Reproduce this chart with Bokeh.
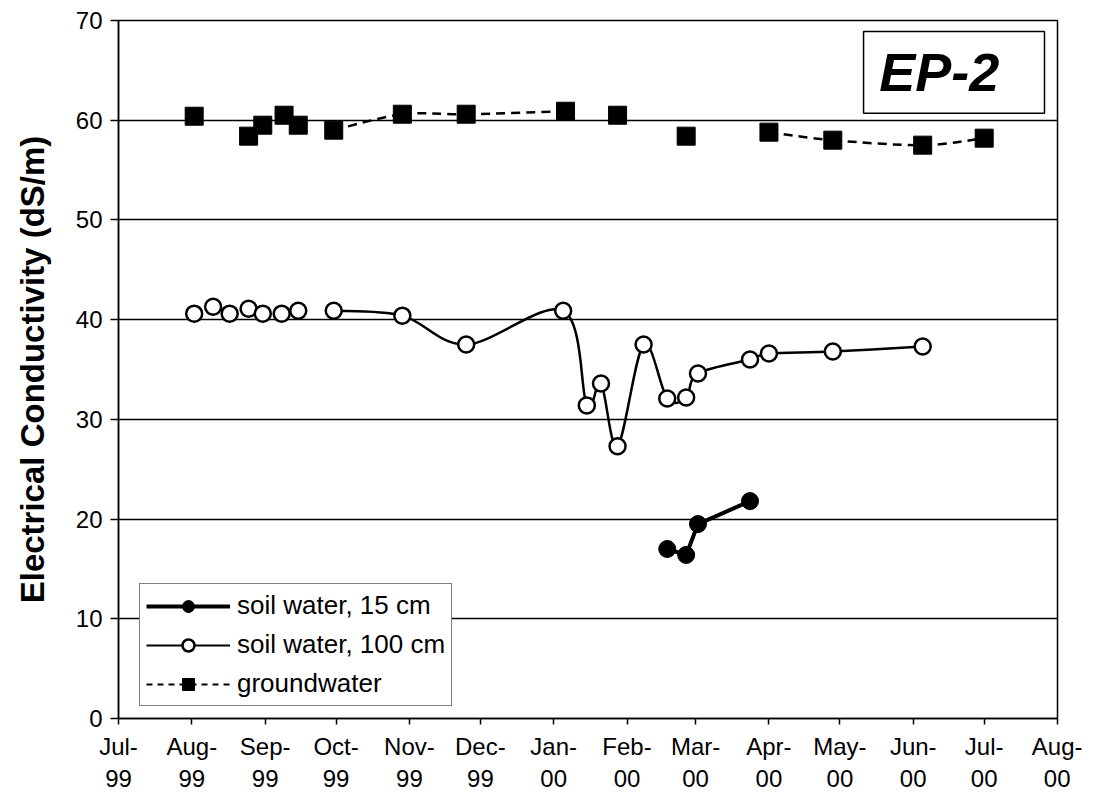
import numpy as np
import pandas as pd
from bokeh.plotting import figure
from bokeh.models import (Range1d, FixedTicker, MonthsTicker, DatetimeTickFormatter,
                          Legend, LegendItem, BoxAnnotation, Label)
from bokeh.embed import file_html
from bokeh.resources import INLINE

# ---------------- data ----------------
sw15_dates = ["2000-02-18", "2000-02-26", "2000-03-02", "2000-03-24"]
sw15_ec = [17.0, 16.4, 19.5, 21.8]

sw100_dates = ["1999-08-02", "1999-08-10", "1999-08-17", "1999-08-25", "1999-08-31",
               "1999-09-08", "1999-09-15", "1999-09-30", "1999-10-29", "1999-11-25",
               "2000-01-05", "2000-01-15", "2000-01-21", "2000-01-28", "2000-02-08",
               "2000-02-18", "2000-02-26", "2000-03-02", "2000-03-24", "2000-04-01",
               "2000-04-28", "2000-06-05"]
sw100_ec = [40.6, 41.3, 40.6, 41.1, 40.6, 40.6, 40.9, 40.9, 40.4, 37.5, 40.9, 31.4,
            33.6, 27.3, 37.5, 32.1, 32.2, 34.6, 36.0, 36.6, 36.8, 37.3]
sw100_runs = [(7, 21)]          # index ranges joined by a smoothed line

gw_dates = ["1999-08-02", "1999-08-25", "1999-08-31", "1999-09-09", "1999-09-15",
            "1999-09-30", "1999-10-29", "1999-11-25", "2000-01-06", "2000-01-28",
            "2000-02-26", "2000-04-01", "2000-04-28", "2000-06-05", "2000-07-01"]
gw_ec = [60.4, 58.4, 59.5, 60.5, 59.5, 59.0, 60.6, 60.6, 60.9, 60.5, 58.4, 58.8,
         58.0, 57.5, 58.2]
gw_runs = [(5, 8), (11, 14)]

y_ticks = [0, 10, 20, 30, 40, 50, 60, 70]
x_start, x_end = "1999-07-01", "2000-08-01"
legend_labels = ["soil water, 15 cm", "soil water, 100 cm", "groundwater"]
y_title = "Electrical Conductivity (dS/m)"
site_label = "EP-2"

FONT = "Liberation Sans"


def to_ms(dates):
    t = pd.to_datetime(pd.Series(dates), format="ISO8601")
    return ((t - pd.Timestamp("1970-01-01")) // pd.Timedelta(milliseconds=1)).astype(float).to_numpy()


def smooth(xs, ys, runs):
    """Bezier segments (Catmull-Rom style, like a spreadsheet 'smoothed line')."""
    out = {k: [] for k in ("x0", "y0", "x1", "y1", "cx0", "cy0", "cx1", "cy1")}
    for a, b in runs:
        P = np.column_stack([xs[a:b + 1], ys[a:b + 1]])
        n = len(P)
        for i in range(n - 1):
            p0 = P[max(i - 1, 0)]
            p1 = P[i]
            p2 = P[i + 1]
            p3 = P[min(i + 2, n - 1)]
            c1 = p1 + (p2 - p0) / 6.0
            c2 = p2 - (p3 - p1) / 6.0
            out["x0"].append(p1[0]); out["y0"].append(p1[1])
            out["x1"].append(p2[0]); out["y1"].append(p2[1])
            out["cx0"].append(c1[0]); out["cy0"].append(c1[1])
            out["cx1"].append(c2[0]); out["cy1"].append(c2[1])
    return out


x15 = to_ms(sw15_dates)
x100 = to_ms(sw100_dates)
xgw = to_ms(gw_dates)
y15 = np.array(sw15_ec, dtype=float)
y100 = np.array(sw100_ec, dtype=float)
ygw = np.array(gw_ec, dtype=float)

p = figure(x_axis_type="datetime", output_backend="svg", toolbar_location=None,
           frame_width=939, frame_height=698,
           min_border_left=118, min_border_top=20, min_border_right=25, min_border_bottom=70,
           x_range=Range1d(to_ms([x_start])[0], to_ms([x_end])[0]),
           y_range=Range1d(0, 70))

p.background_fill_color = "white"
p.border_fill_color = "white"
p.outline_line_color = "black"
p.outline_line_width = 1.5

# grid
p.xgrid.grid_line_color = None
p.ygrid.grid_line_color = "black"
p.ygrid.grid_line_width = 1.3
p.ygrid.ticker = FixedTicker(ticks=y_ticks)

# axes
p.yaxis.ticker = FixedTicker(ticks=y_ticks)
p.xaxis.ticker = MonthsTicker(months=list(range(12)))
p.xaxis.formatter = DatetimeTickFormatter(months="%b-\n%y", days="%b-\n%y")
for ax in (p.xaxis[0], p.yaxis[0]):
    ax.axis_line_color = "black"
    ax.axis_line_width = 1.5
    ax.major_tick_line_color = "black"
    ax.major_tick_line_width = 1.5
    ax.major_tick_in = 0
    ax.minor_tick_line_color = None
    ax.major_label_text_font = FONT
    ax.major_label_text_font_size = "24px"
    ax.major_label_text_color = "black"
p.xaxis.major_tick_out = 6
p.xaxis.major_label_standoff = 8
p.yaxis.major_tick_out = 8
p.yaxis.major_label_standoff = 8
p.yaxis.axis_label = y_title
p.yaxis.axis_label_text_font = FONT
p.yaxis.axis_label_text_font_size = "33px"
p.yaxis.axis_label_text_font_style = "bold"
p.yaxis.axis_label_text_color = "black"
p.yaxis.axis_label_standoff = 22

# groundwater: dashed smoothed line + squares
g = smooth(xgw, ygw, gw_runs)
p.bezier(x0=g["x0"], y0=g["y0"], x1=g["x1"], y1=g["y1"], cx0=g["cx0"], cy0=g["cy0"],
         cx1=g["cx1"], cy1=g["cy1"], line_color="black", line_width=2.5, line_dash="9 6")
gw_pts = p.scatter(xgw, ygw, marker="square", size=18, fill_color="black", line_color="black")

# soil water 100 cm: smoothed line + open circles
s = smooth(x100, y100, sw100_runs)
p.bezier(x0=s["x0"], y0=s["y0"], x1=s["x1"], y1=s["y1"], cx0=s["cx0"], cy0=s["cy0"],
         cx1=s["cx1"], cy1=s["cy1"], line_color="black", line_width=2.5)
sw100_pts = p.scatter(x100, y100, marker="circle", size=16, fill_color="white",
                      line_color="black", line_width=2.5)

# soil water 15 cm: thick line + filled circles
l15 = p.line(x15, y15, line_color="black", line_width=4)
sw15_pts = p.scatter(x15, y15, marker="circle", size=17, fill_color="black", line_color="black")

# legend proxies for the smoothed lines (draw nothing in the plot)
l100 = p.line(x=[np.nan], y=[np.nan], line_color="black", line_width=2)
lgw = p.line(x=[np.nan], y=[np.nan], line_color="black", line_width=2, line_dash="6 5")

legend = Legend(items=[LegendItem(label=legend_labels[0], renderers=[l15, sw15_pts]),
                       LegendItem(label=legend_labels[1], renderers=[l100, sw100_pts]),
                       LegendItem(label=legend_labels[2], renderers=[lgw, gw_pts])],
                location=(21, 12))
legend.border_line_color = "black"
legend.border_line_width = 1.5
legend.background_fill_color = "white"
legend.background_fill_alpha = 1.0
legend.label_text_font = FONT
legend.label_text_font_size = "26px"
legend.label_text_color = "black"
legend.glyph_width = 84
legend.glyph_height = 30
legend.label_height = 30
legend.spacing = 8
legend.padding = 6
legend.label_standoff = 7
legend.margin = 0
p.add_layout(legend)

# site box
box_l, box_r = to_ms(["2000-05-11", "2000-07-26T12:00"])
p.add_layout(BoxAnnotation(left=box_l, right=box_r, bottom=60.7, top=68.9,
                           fill_color="white", fill_alpha=1.0,
                           line_color="black", line_alpha=1.0, line_width=1.5))
p.add_layout(Label(x=to_ms(["2000-06-12"])[0], y=64.8, text=site_label,
                   text_font=FONT, text_font_size="54px", text_font_style="bold italic",
                   text_align="center", text_baseline="middle", text_color="black"))

open("out.html", "w").write(file_html(p, INLINE))
